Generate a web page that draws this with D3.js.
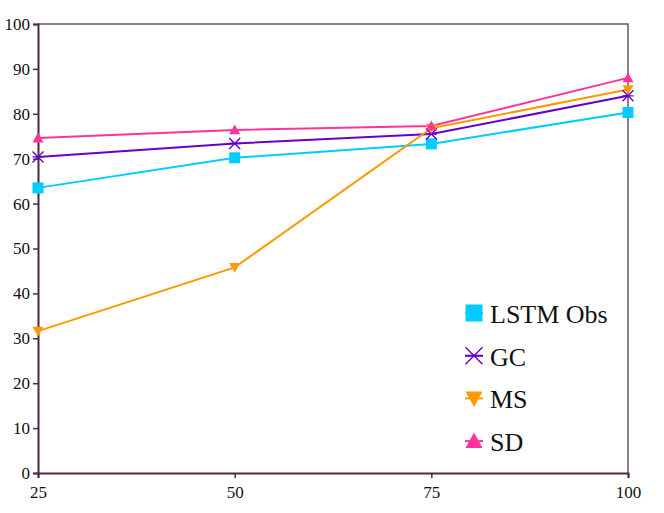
<!DOCTYPE html>
<html>
<head>
<meta charset="utf-8">
<script src="https://cdn.jsdelivr.net/npm/d3@7/dist/d3.min.js"></script>
<style>
  html, body { margin: 0; padding: 0; background: #fff; }
  svg { display: block; }
</style>
</head>
<body>
<div id="chart"></div>
<script>
// ── DATA ─────────────────────────────────────
const xValues = [25, 50, 75, 100];
const yTicks = [0, 10, 20, 30, 40, 50, 60, 70, 80, 90, 100];

const seriesNames = ['LSTM Obs', 'GC', 'MS', 'SD'];
const lstmObs = [63.5, 70.2, 73.3, 80.3];
const gc = [70.4, 73.4, 75.5, 84.0];
const ms = [31.6, 45.8, 76.8, 85.4];
const sd = [74.6, 76.4, 77.3, 88.0];

const SERIES = [
  { name: seriesNames[0], values: lstmObs, color: '#00ccff', symbol: 'square' },
  { name: seriesNames[1], values: gc, color: '#6600cc', symbol: 'cross' },
  { name: seriesNames[2], values: ms, color: '#ff9900', symbol: 'down' },
  { name: seriesNames[3], values: sd, color: '#ff3399', symbol: 'up' }
];

const FONT = "'Liberation Serif', 'Times New Roman', Times, serif";

// ── LAYOUT ───────────────────────────────────
const W = 664, H = 513;
const M = { t: 24, r: 36, b: 40, l: 38 };
const w = W - M.l - M.r;
const h = H - M.t - M.b;

const svg = d3.select('#chart').append('svg')
  .attr('width', W).attr('height', H)
  .style('font-family', FONT);

const g = svg.append('g').attr('transform', `translate(${M.l},${M.t})`);

const x = d3.scaleLinear().domain([25, 100]).range([0, w]);
const y = d3.scaleLinear().domain([0, 100]).range([h, 0]);

// ── FRAME (top/right) ────────────────────────
g.append('path')
  .attr('d', `M0,0H${w}V${h}`)
  .attr('fill', 'none')
  .attr('stroke', '#6b5566')
  .attr('stroke-width', 1.5);

// ── AXES ─────────────────────────────────────
const yAxis = g.append('g')
  .call(d3.axisLeft(y).tickValues(yTicks).tickSize(5).tickPadding(3));
const xAxis = g.append('g')
  .attr('transform', `translate(0,${h})`)
  .call(d3.axisBottom(x).tickValues(xValues).tickSize(5).tickPadding(8));

[yAxis, xAxis].forEach(a => {
  a.attr('font-family', null).attr('font-size', null);
  a.select('.domain').attr('stroke', '#4a2a45').attr('stroke-width', 2);
  a.selectAll('.tick line').attr('stroke', '#4a2a45').attr('stroke-width', 1.5);
  a.selectAll('.tick text')
    .style('font-family', FONT)
    .style('font-size', '17px')
    .attr('fill', '#111');
});

// ── SYMBOLS ──────────────────────────────────
function drawSymbol(sel, kind, cx, cy, s, color) {
  const r = s / 2;
  if (kind === 'square') {
    sel.append('rect')
      .attr('x', cx - r).attr('y', cy - r)
      .attr('width', s).attr('height', s)
      .attr('fill', color);
  } else if (kind === 'cross') {
    sel.append('path')
      .attr('d', `M${cx - r},${cy - r}L${cx + r},${cy + r}M${cx - r},${cy + r}L${cx + r},${cy - r}M${cx - r},${cy}L${cx + r},${cy}`)
      .attr('stroke', color).attr('stroke-width', 1.4).attr('fill', 'none');
  } else if (kind === 'up') {
    sel.append('path')
      .attr('d', `M${cx},${cy - r}L${cx + r},${cy + r * 0.8}L${cx - r},${cy + r * 0.8}Z`)
      .attr('fill', color);
  } else if (kind === 'down') {
    sel.append('path')
      .attr('d', `M${cx},${cy + r}L${cx + r},${cy - r * 0.8}L${cx - r},${cy - r * 0.8}Z`)
      .attr('fill', color);
  }
}

// ── LINES + POINTS ───────────────────────────
const line = d3.line()
  .x((d, i) => x(xValues[i]))
  .y(d => y(d));

SERIES.forEach(s => {
  g.append('path')
    .datum(s.values)
    .attr('d', line)
    .attr('fill', 'none')
    .attr('stroke', s.color)
    .attr('stroke-width', 2);
});

SERIES.forEach(s => {
  const pg = g.append('g');
  s.values.forEach((v, i) => {
    drawSymbol(pg, s.symbol, x(xValues[i]), y(v), 11, s.color);
  });
});

// ── LEGEND ───────────────────────────────────
const legend = svg.append('g').attr('transform', 'translate(474,313)');
SERIES.forEach((s, i) => {
  const row = legend.append('g').attr('transform', `translate(0,${i * 42.7})`);
  row.append('line')
    .attr('x1', -9).attr('x2', 9)
    .attr('stroke', s.color).attr('stroke-width', 2);
  drawSymbol(row, s.symbol, 0, 0, 17, s.color);
  row.append('text')
    .attr('x', 16).attr('y', 10)
    .style('font-family', FONT)
    .style('font-size', '26px')
    .attr('fill', '#111')
    .text(s.name);
});
</script>
</body>
</html>
